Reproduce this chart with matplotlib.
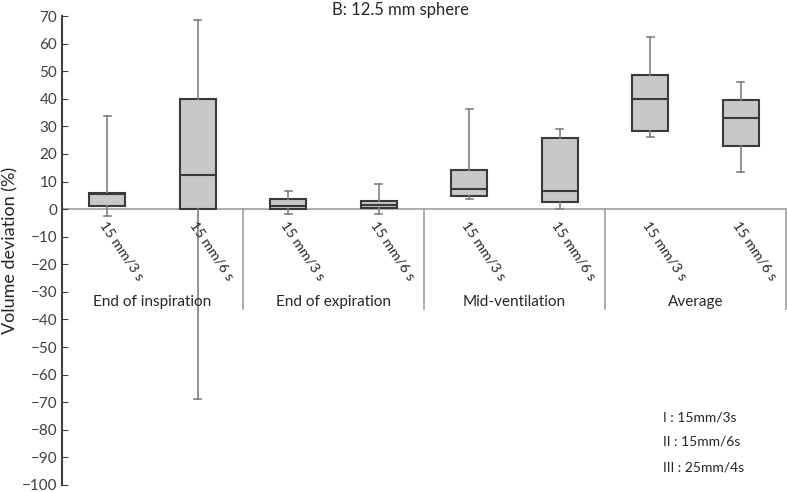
import matplotlib.pyplot as plt
import numpy as np

plt.rcParams['font.family'] = ['Lato', 'DejaVu Sans']

# box statistics (volume deviation, %)
groups = ["End of inspiration", "End of expiration", "Mid-ventilation", "Average"]
box_labels = ["15 mm/3 s", "15 mm/6 s"] * 4
whislo = [-2.4, -68.7, -1.6, -1.6, 3.5, 0.0, 26.2, 13.5]
q1 = [1.2, 0.0, 0.0, 0.5, 4.6, 2.6, 28.4, 23.0]
med = [5.5, 12.3, 1.2, 1.5, 7.3, 6.5, 39.9, 33.0]
q3 = [5.7, 39.9, 3.5, 2.8, 14.3, 25.6, 48.7, 39.7]
whishi = [33.7, 68.6, 6.5, 9.0, 36.2, 28.9, 62.3, 45.9]
legend_lines = ["I : 15mm/3s", "II : 15mm/6s", "III : 25mm/4s"]

stats = []
for i in range(len(box_labels)):
    stats.append(dict(whislo=whislo[i], q1=q1[i], med=med[i], q3=q3[i],
                      whishi=whishi[i], fliers=[], label=box_labels[i]))

fig = plt.figure(figsize=(7.87, 4.92), dpi=100)
ax = fig.add_axes([62 / 787, 1 - 485 / 492, 724 / 787, 469 / 492])

positions = np.arange(len(stats)) + 0.5
ax.bxp(stats, positions=positions, widths=0.4, capwidths=0.08,
       patch_artist=True, showfliers=False,
       boxprops=dict(facecolor="#c8c8c8", edgecolor="#3a3a3a", linewidth=1.5),
       medianprops=dict(color="#3a3a3a", linewidth=1.5),
       whiskerprops=dict(color="#808080", linewidth=1.2),
       capprops=dict(color="#808080", linewidth=1.2))

ax.set_xlim(0, 8)
ax.set_ylim(-100, 70)
ax.set_yticks(np.arange(-100, 71, 10))
ax.tick_params(axis="y", direction="in", length=4, labelsize=11,
               colors="#404040", labelcolor="#404040")
for s in ["top", "right", "bottom"]:
    ax.spines[s].set_visible(False)
ax.spines["left"].set_color("#404040")
ax.spines["left"].set_linewidth(1.5)
ax.axhline(0, color="#a0a0a0", linewidth=1.2, zorder=0)

# category separators
for xb in [2, 4, 6, 8]:
    ax.plot([xb, xb], [0, -36.3], color="#a0a0a0", linewidth=1.2, clip_on=False)

ax.set_xticks(positions)
ax.set_xticklabels([])
ax.tick_params(axis="x", length=0)
for p, lab in zip(positions, box_labels):
    ax.text(p + 0.0, -3.8, lab, rotation=-56, rotation_mode="anchor",
            ha="left", va="top", fontsize=10.3, color="#262626")
for k, g in enumerate(groups):
    ax.text(2 * k + 1, -33.5, g, ha="center", va="center", fontsize=11, color="#262626")

ax.set_ylabel("Volume deviation (%)", fontsize=13, color="#262626", labelpad=2)
fig.text(400 / 787, 1 - 10 / 492, "B: 12.5 mm sphere", ha="center", va="center",
         fontsize=12, color="#262626")

for k, t in enumerate(legend_lines):
    fig.text(663 / 787, 1 - (417 + 25 * k) / 492, t, ha="left", va="center",
             fontsize=10, color="#262626")

fig.savefig("out.png", dpi=100)
